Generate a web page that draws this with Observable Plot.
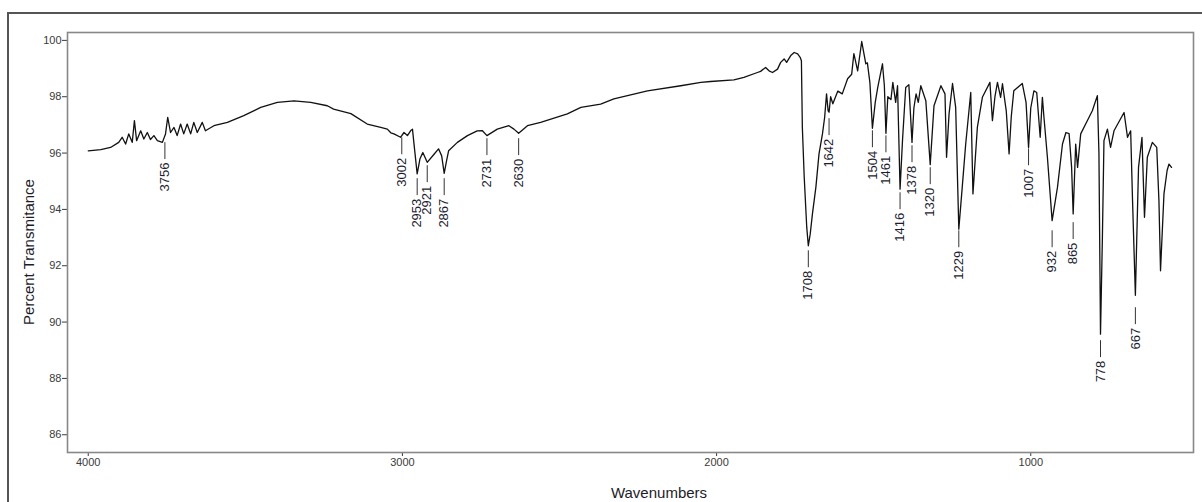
<!DOCTYPE html>
<html><head><meta charset="utf-8">
<script src="https://cdn.jsdelivr.net/npm/d3@7"></script>
<script src="https://cdn.jsdelivr.net/npm/@observablehq/plot@0.6"></script>
<style>
html,body{margin:0;padding:0;background:#fff;overflow:hidden}
#wrap{position:relative;width:1202px;height:502px;overflow:hidden}
#outer{position:absolute;left:7px;top:12px;width:1300px;height:700px;border-left:2px solid #555;border-top:2px solid #555}
#chart{position:absolute;left:0;top:0}
.alabel{position:absolute;font-family:"Liberation Sans",Arial,sans-serif;font-size:15px;color:#1c1c28;white-space:nowrap;transform:translate(-50%,-50%)}
#ylab{left:27.5px;top:251.5px;transform:translate(-50%,-50%) rotate(-90deg)}
#xlab{left:659px;top:492px}
</style></head><body>
<div id="wrap"><div id="outer"></div><div id="chart"></div>
<div class="alabel" id="ylab">Percent Transmitance</div>
<div class="alabel" id="xlab">Wavenumbers</div>
</div>
<script>
const wavenumber = [4000,3960,3929,3903,3892,3881,3871,3860,3853,3846,3833,3823,3812,3802,3791,3780,3764,3754,3747,3738,3727,3717,3706,3696,3685,3674,3664,3653,3637,3627,3600,3557,3505,3451,3398,3345,3292,3239,3219,3164,3112,3069,3048,3037,3027,3006,2995,2984,2974,2968,2960,2953,2944,2935,2921,2900,2885,2875,2867,2860,2853,2825,2793,2762,2746,2731,2698,2661,2645,2630,2602,2560,2475,2432,2369,2327,2220,2114,2050,2019,1945,1913,1870,1860,1844,1833,1822,1806,1796,1785,1777,1764,1753,1742,1734,1730,1727,1721,1713,1708,1702,1695,1684,1674,1663,1656,1650,1645,1642,1637,1630,1614,1600,1583,1570,1563,1551,1538,1525,1520,1512,1504,1495,1487,1472,1466,1461,1455,1445,1439,1430,1424,1416,1408,1398,1388,1378,1372,1365,1358,1350,1334,1320,1308,1286,1273,1268,1260,1249,1239,1229,1218,1207,1191,1184,1170,1154,1130,1122,1114,1106,1096,1090,1078,1069,1062,1054,1027,1015,1007,1000,990,981,970,963,958,947,932,915,899,888,878,870,865,857,851,841,820,804,788,783,778,772,767,756,746,735,703,692,682,676,667,657,646,638,629,613,599,592,587,576,566,560,552];
const transmittance = [96.08,96.12,96.20,96.38,96.56,96.32,96.68,96.38,97.15,96.44,96.79,96.50,96.73,96.48,96.62,96.44,96.38,96.68,97.27,96.73,96.91,96.62,97.03,96.68,97.03,96.68,97.09,96.73,97.09,96.79,96.97,97.09,97.33,97.62,97.80,97.85,97.80,97.68,97.56,97.40,97.03,96.91,96.85,96.72,96.68,96.56,96.73,96.62,96.79,96.85,96.00,95.26,95.80,96.02,95.67,95.95,96.15,95.90,95.28,95.70,96.08,96.38,96.62,96.79,96.80,96.62,96.85,96.97,96.85,96.70,96.97,97.09,97.39,97.62,97.74,97.92,98.21,98.39,98.51,98.54,98.60,98.69,98.86,98.90,99.04,98.92,98.86,98.98,99.22,99.34,99.22,99.46,99.57,99.52,99.40,99.28,96.91,95.13,93.36,92.71,93.12,93.83,94.78,95.97,96.68,97.27,98.10,97.50,97.45,98.00,97.75,98.20,98.10,98.64,98.80,99.53,98.92,99.96,99.17,99.20,98.50,96.88,97.80,98.33,99.17,98.40,96.70,98.00,97.90,98.51,97.80,98.39,94.72,96.50,98.33,98.43,96.38,97.60,98.10,97.80,98.39,97.86,95.59,97.68,98.39,98.10,95.85,97.40,98.47,97.62,93.30,94.80,96.33,98.15,94.55,96.91,97.98,98.51,97.15,98.00,98.51,97.98,98.46,97.50,95.97,97.30,98.21,98.47,97.80,96.20,97.60,98.21,98.15,96.56,97.98,97.27,95.85,93.60,94.78,96.32,96.73,96.69,95.50,93.84,96.32,95.49,96.68,97.15,97.50,98.04,96.00,89.57,93.00,96.44,96.85,96.20,96.79,97.44,96.56,96.79,94.31,90.95,95.49,96.56,93.72,95.85,96.38,96.20,94.31,91.82,94.55,95.38,95.61,95.49];

const peakWavenumber = [3756,3002,2953,2921,2867,2731,2630,1708,1642,1504,1461,1416,1378,1320,1229,1007,932,865,778,667];
const peakMarkTop = [96.37,96.54,95.09,95.55,95.09,96.51,96.51,92.53,97.22,96.79,96.61,94.59,96.26,95.48,93.24,96.15,93.24,93.53,89.34,90.51];

const xTicks = [4000,3000,2000,1000];
const yTicks = [86,88,90,92,94,96,98,100];

const spectrum = wavenumber.map((w, i) => ({w, t: transmittance[i]}));
const peaks = peakWavenumber.map((w, i) => ({w, label: String(w), top: peakMarkTop[i]}));

const chart = Plot.plot({
  width: 1202, height: 502,
  marginLeft: 67, marginTop: 32, marginRight: 9, marginBottom: 50,
  style: {fontFamily: "'Liberation Sans', Arial, sans-serif", fontSize: "11px", color: "#3a3a3a", background: "transparent"},
  x: {domain: [4066, 482], ticks: xTicks, tickFormat: "d", tickSize: 4, tickPadding: 2, label: null},
  y: {domain: [85.37, 100.28], ticks: yTicks, tickFormat: "d", tickSize: 5, tickPadding: 1, label: null},
  marks: [
    Plot.frame({stroke: "#888", strokeWidth: 1.6}),
    Plot.line(spectrum, {x: "w", y: "t", stroke: "#111", strokeWidth: 1.3}),
    Plot.ruleX(peaks, {x: "w", y1: "top", y2: d => d.top - 0.6, stroke: "#333", strokeWidth: 1}),
    Plot.text(peaks, {x: "w", y: d => d.top - 0.71, text: "label", rotate: -90, textAnchor: "end", lineAnchor: "middle", fontSize: 13, fill: "#1c1c30"})
  ]
});
document.getElementById("chart").appendChild(chart);
</script>
</body></html>
